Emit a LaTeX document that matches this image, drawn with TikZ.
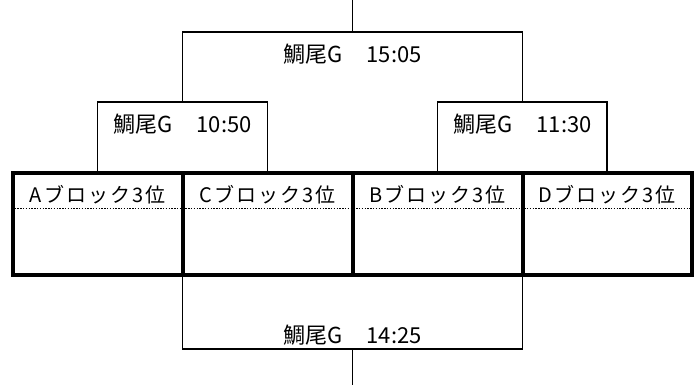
\documentclass[tikz,border=0pt]{standalone}
\usepackage{fontspec}
\setmainfont{Noto Sans CJK JP}
\newfontfamily\jpwide[LetterSpace=10]{Noto Sans CJK JP}
\begin{document}
\begin{tikzpicture}[x=1pt,y=-1pt,
  thinline/.style={line width=1.6pt,line cap=rect},
  thickline/.style={line width=4pt},
  dotline/.style={line width=1.8pt,dash pattern=on 1.4pt off 1.4pt},
  timelabel/.style={font=\fontsize{22}{24}\selectfont,anchor=base,inner sep=0pt},
  celllabel/.style={font=\jpwide\fontsize{20}{22}\selectfont,anchor=base,inner sep=0pt}]
\useasboundingbox (0,0) rectangle (697,385);
% table
\coordinate (TabTL) at (12.5,173);
\coordinate (TabBR) at (691.5,275.5);
\draw[thickline] (TabTL) rectangle (TabBR);
\foreach \x/\n in {182.5/c1,352.5/c2,522.5/c3}{
  \coordinate (\n t) at (\x,173);
  \coordinate (\n b) at (\x,275.5);
  \draw[thickline] (\n t) -- (\n b);
}
\coordinate (DotL) at (14.5,208.5);
\coordinate (DotR) at (689.5,208.5);
\draw[dotline] (DotL) -- (DotR);
% top bracket
\coordinate (T0) at (352.5,0);
\coordinate (T1) at (352.5,32);
\coordinate (TL) at (182.5,32);
\coordinate (TR) at (522.5,32);
\coordinate (L0) at (182.5,102);
\coordinate (R0) at (522.5,102);
\draw[thinline] (T0) -- (T1);
\draw[thinline] (L0) -- (TL) -- (TR) -- (R0);
% left small
\coordinate (LLt) at (97.5,102);
\coordinate (LRt) at (267.5,102);
\coordinate (LLb) at (97.5,173);
\coordinate (LRb) at (267.5,173);
\draw[thinline] (LLb) -- (LLt) -- (LRt) -- (LRb);
% right small
\coordinate (RLt) at (437.5,102);
\coordinate (RRt) at (607,102);
\coordinate (RLb) at (437.5,173);
\coordinate (RRb) at (607,173);
\draw[thinline] (RLb) -- (RLt) -- (RRt) -- (RRb);
% bottom bracket
\coordinate (BL) at (182.5,349);
\coordinate (BR) at (522.5,349);
\coordinate (B0) at (352.5,349);
\coordinate (B1) at (352.5,385);
\draw[thinline] (c1b) -- (BL) -- (BR) -- (c3b);
\draw[thinline] (B0) -- (B1);
% labels
\node[timelabel] (g1505) at (352.5,63) {鯛尾G\hspace{24pt}15:05};
\node[timelabel] (g1050) at (182.5,133) {鯛尾G\hspace{24pt}10:50};
\node[timelabel] (g1130) at (522.5,133) {鯛尾G\hspace{24pt}11:30};
\node[timelabel] (g1425) at (352.5,343) {鯛尾G\hspace{24pt}14:25};
\node[celllabel] (cA) at (97.5,203) {Aブロック3位};
\node[celllabel] (cC) at (267.5,203) {Cブロック3位};
\node[celllabel] (cB) at (437.5,203) {Bブロック3位};
\node[celllabel] (cD) at (607,203) {Dブロック3位};
\end{tikzpicture}
\end{document}
